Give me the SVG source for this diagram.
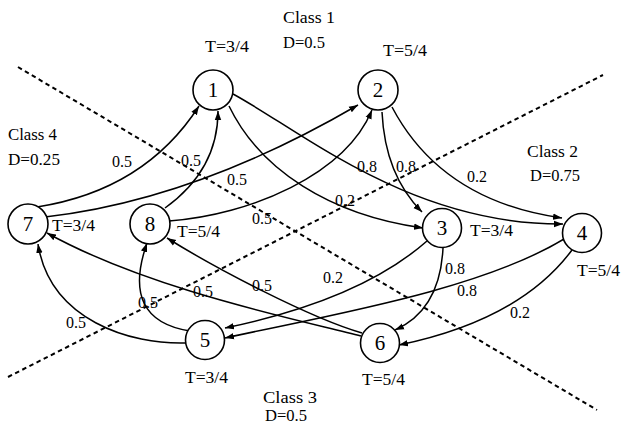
<svg xmlns="http://www.w3.org/2000/svg" width="621" height="427" viewBox="0 0 621 427">
<style>
.bg{fill:#fff}
.node circle{fill:#fff;stroke:#000;stroke-width:1.6}
.node text{font-family:'Liberation Serif','DejaVu Serif','Times New Roman',serif;font-size:21px;text-anchor:middle;fill:#000}
.edge{fill:none;stroke:#000;stroke-width:1.5;marker-end:url(#arr)}
.div{fill:none;stroke:#000;stroke-width:2;stroke-dasharray:4.5 3.5}
.lbl{font-family:'Liberation Serif','DejaVu Serif','Times New Roman',serif;font-size:16px;fill:#000}
</style>
<defs>
<marker id="arr" markerUnits="userSpaceOnUse" markerWidth="10" markerHeight="8" refX="9" refY="4" orient="auto">
<path d="M0,0.8 L9,4 L0,7.2 Z" fill="#000"/>
</marker>
</defs>
<rect class="bg" width="621" height="427"/>
<g id="dividers">
<line class="div" x1="18" y1="67" x2="597" y2="410"/>
<line class="div" x1="8" y1="377" x2="603" y2="75"/>
</g>
<g id="connectors">
<path id="e7-1" class="edge" d="M37,207 Q145,190 199,106"/>
<path id="e8-1" class="edge" d="M165,208 Q218,170 218,111"/>
<path id="e7-2" class="edge" d="M45,217 Q195,200 358,105"/>
<path id="e8-2" class="edge" d="M169,221 C250,215 345,175 372,110"/>
<path id="e1-3" class="edge" d="M229,106 C260,170 330,215 423,228"/>
<path id="e1-4" class="edge" d="M233,94 C300,130 410,225 563,224"/>
<path id="e2-3" class="edge" d="M382,112 Q385,175 422,212"/>
<path id="e2-4" class="edge" d="M392,107 C420,160 470,205 562,218"/>
<path id="e3-5" class="edge" d="M427,241 Q360,300 225,328"/>
<path id="e3-6" class="edge" d="M443,248 Q440,310 395,330"/>
<path id="e4-5" class="edge" d="M564,239 C480,290 330,315 225,338"/>
<path id="e4-6" class="edge" d="M572,250 Q520,320 399,345"/>
<path id="e5-7" class="edge" d="M187,343 C130,345 50,320 38,244"/>
<path id="e5-8" class="edge" d="M190,331 Q120,320 147,243"/>
<path id="e6-7" class="edge" d="M361,336 C300,320 150,290 47,233"/>
<path id="e6-8" class="edge" d="M362,333 C310,318 215,268 167,238"/>
</g>
<g id="n1" class="node"><circle cx="213" cy="90" r="20"/><text x="213" y="97">1</text></g>
<g id="n2" class="node"><circle cx="378" cy="90" r="20"/><text x="378" y="97">2</text></g>
<g id="n3" class="node"><circle cx="442" cy="228" r="19.5"/><text x="442" y="235">3</text></g>
<g id="n4" class="node"><circle cx="582" cy="233" r="19.5"/><text x="582" y="240">4</text></g>
<g id="n5" class="node"><circle cx="205" cy="340" r="19.5"/><text x="205" y="347">5</text></g>
<g id="n6" class="node"><circle cx="380" cy="343" r="19.5"/><text x="380" y="350">6</text></g>
<g id="n7" class="node"><circle cx="28" cy="224" r="20"/><text x="28" y="231">7</text></g>
<g id="n8" class="node"><circle cx="150" cy="224" r="20"/><text x="150" y="231">8</text></g>
<g id="labels" class="lbl">
<text x="283" y="23" textLength="52" lengthAdjust="spacingAndGlyphs">Class 1</text>
<text x="283" y="48" textLength="42" lengthAdjust="spacingAndGlyphs">D=0.5</text>
<text x="205" y="52" textLength="44" lengthAdjust="spacingAndGlyphs">T=3/4</text>
<text x="383" y="56" textLength="44" lengthAdjust="spacingAndGlyphs">T=5/4</text>
<text x="8" y="140" textLength="49" lengthAdjust="spacingAndGlyphs">Class 4</text>
<text x="8" y="165" textLength="52" lengthAdjust="spacingAndGlyphs">D=0.25</text>
<text x="527" y="157" textLength="51" lengthAdjust="spacingAndGlyphs">Class 2</text>
<text x="530" y="181" textLength="50" lengthAdjust="spacingAndGlyphs">D=0.75</text>
<text x="263" y="403" textLength="54" lengthAdjust="spacingAndGlyphs">Class 3</text>
<text x="265" y="421" textLength="42" lengthAdjust="spacingAndGlyphs">D=0.5</text>
<text x="470" y="236" textLength="43" lengthAdjust="spacingAndGlyphs">T=3/4</text>
<text x="577" y="276" textLength="43" lengthAdjust="spacingAndGlyphs">T=5/4</text>
<text x="362" y="385" textLength="43" lengthAdjust="spacingAndGlyphs">T=5/4</text>
<text x="185" y="383" textLength="43" lengthAdjust="spacingAndGlyphs">T=3/4</text>
<text x="52" y="231" textLength="43" lengthAdjust="spacingAndGlyphs">T=3/4</text>
<text x="177" y="237" textLength="43" lengthAdjust="spacingAndGlyphs">T=5/4</text>
<text x="112" y="167">0.5</text>
<text x="181" y="166">0.5</text>
<text x="227" y="185">0.5</text>
<text x="252" y="224">0.5</text>
<text x="357" y="172">0.8</text>
<text x="396" y="172">0.8</text>
<text x="335" y="206">0.2</text>
<text x="467" y="182">0.2</text>
<text x="323" y="283">0.2</text>
<text x="445" y="274">0.8</text>
<text x="457" y="296">0.8</text>
<text x="510" y="318">0.2</text>
<text x="66" y="328">0.5</text>
<text x="138" y="308">0.5</text>
<text x="193" y="297">0.5</text>
<text x="252" y="291">0.5</text>
</g>
</svg>
